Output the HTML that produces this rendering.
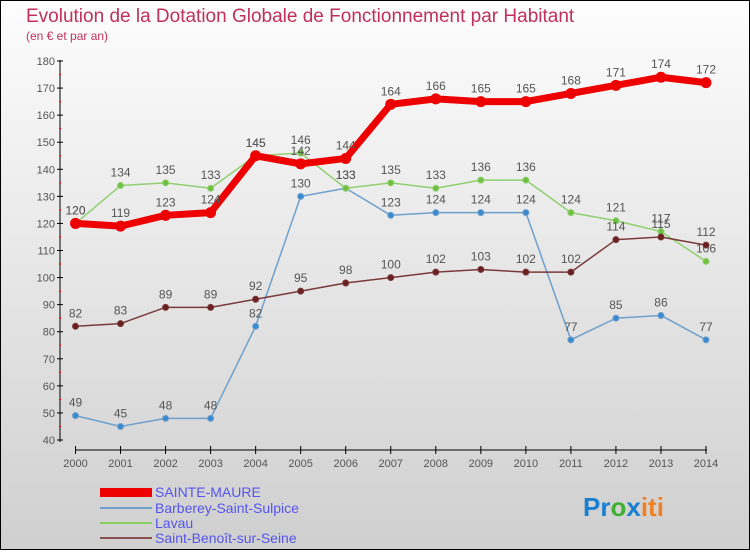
<!DOCTYPE html>
<html><head><meta charset="utf-8"><style>
body{margin:0}
svg text{font-family:"Liberation Sans",sans-serif}
</style></head><body>
<svg width="750" height="550" xmlns="http://www.w3.org/2000/svg">
<defs><linearGradient id="bg" x1="0" y1="0" x2="0" y2="1"><stop offset="0" stop-color="#fdfdfd"/><stop offset="1" stop-color="#cfcfcf"/></linearGradient></defs>
<rect x="0.5" y="0.5" width="749" height="549" fill="url(#bg)" stroke="#000"/>
<text x="26" y="22" font-size="19" fill="#c0305a">Evolution de la Dotation Globale de Fonctionnement par Habitant</text>
<text x="26" y="40" font-size="12" fill="#c0305a">(en € et par an)</text>
<g id="axes"></g>
<g id="series"></g>
<g font-size="14" fill="#5555ee">
<rect x="100" y="488" width="52" height="9" fill="#e00"/>
<text x="155" y="497">SAINTE-MAURE</text>
<line x1="100" y1="508" x2="152" y2="508" stroke="#6fa0cc" stroke-width="2"/>
<text x="155" y="513">Barberey-Saint-Sulpice</text>
<line x1="100" y1="523" x2="152" y2="523" stroke="#88d060" stroke-width="2"/>
<text x="155" y="528">Lavau</text>
<line x1="100" y1="538" x2="152" y2="538" stroke="#8a5050" stroke-width="2"/>
<text x="155" y="543">Saint-Benoît-sur-Seine</text>
</g>
<text x="583" y="516" font-size="26" font-weight="bold"><tspan fill="#1a7fd0">Pr</tspan><tspan fill="#40b030">o</tspan><tspan fill="#1a7fd0">x</tspan><tspan fill="#f08020">iti</tspan></text>
</svg>
<script>
const years=[2000,2001,2002,2003,2004,2005,2006,2007,2008,2009,2010,2011,2012,2013,2014];
const sainteMaure=[120,119,123,124,145,142,144,164,166,165,165,168,171,174,172];
const barberey=[49,45,48,48,82,130,133,123,124,124,124,77,85,86,77];
const lavau=[120,134,135,133,145,146,133,135,133,136,136,124,121,117,106];
const saintBenoit=[82,83,89,89,92,95,98,100,102,103,102,102,114,115,112];
const yTicks=[40,50,60,70,80,90,100,110,120,130,140,150,160,170,180];
const NS="http://www.w3.org/2000/svg";
const xs=i=>75.5+i*(706-75.5)/(years.length-1);
const ys=v=>440-(v-40)*(440-61)/140;
function mk(t,a,p){const e=document.createElementNS(NS,t);for(const k in a)e.setAttribute(k,a[k]);p.appendChild(e);return e;}
const ax=document.getElementById('axes');
mk('line',{x1:60,y1:60,x2:60,y2:442,stroke:'#000'},ax);
mk('line',{x1:75,y1:450,x2:707,y2:450,stroke:'#000'},ax);
yTicks.forEach(v=>{
 mk('line',{x1:57,y1:ys(v),x2:63,y2:ys(v),stroke:'#000'},ax);
 const t=mk('text',{x:55,y:ys(v)+4,'font-size':11,fill:'#555','text-anchor':'end'},ax);t.textContent=v;
 
 
 if(v<180){mk('circle',{cx:60,cy:ys(v+5),r:1,fill:'#e00'},ax);}
});
years.forEach((y,i)=>{
 mk('line',{x1:xs(i),y1:446,x2:xs(i),y2:454,stroke:'#000'},ax);
 const t=mk('text',{x:xs(i),y:467,'font-size':11,fill:'#555','text-anchor':'middle'},ax);t.textContent=y;
 
 
});
const sg=document.getElementById('series');
function draw(vals,color,w,r,fill,name){
 const g=mk('g',{},sg);
 
 
 mk('polyline',{points:vals.map((v,i)=>xs(i)+','+ys(v)).join(' '),fill:'none',stroke:color,'stroke-width':w,'stroke-linejoin':'round'},g);
 vals.forEach((v,i)=>{
  const c=mk('circle',{cx:xs(i),cy:ys(v),r:r,fill:fill,stroke:color},g);
  
  
  const t=mk('text',{x:xs(i),y:ys(v)-9,'font-size':12,fill:'#555','text-anchor':'middle'},g);t.textContent=v;
 });
}
draw(barberey,'#6fa0cc',1.5,3,'#3a8ad0','series-barberey');
draw(lavau,'#90d070',1.5,3,'#70c040','series-lavau');
draw(saintBenoit,'#7a3a3a',1.5,3,'#6a2020','series-saint-benoit');
draw(sainteMaure,'#ee0000',7,5,'#ee0000','series-sainte-maure');
</script>
</body></html>
